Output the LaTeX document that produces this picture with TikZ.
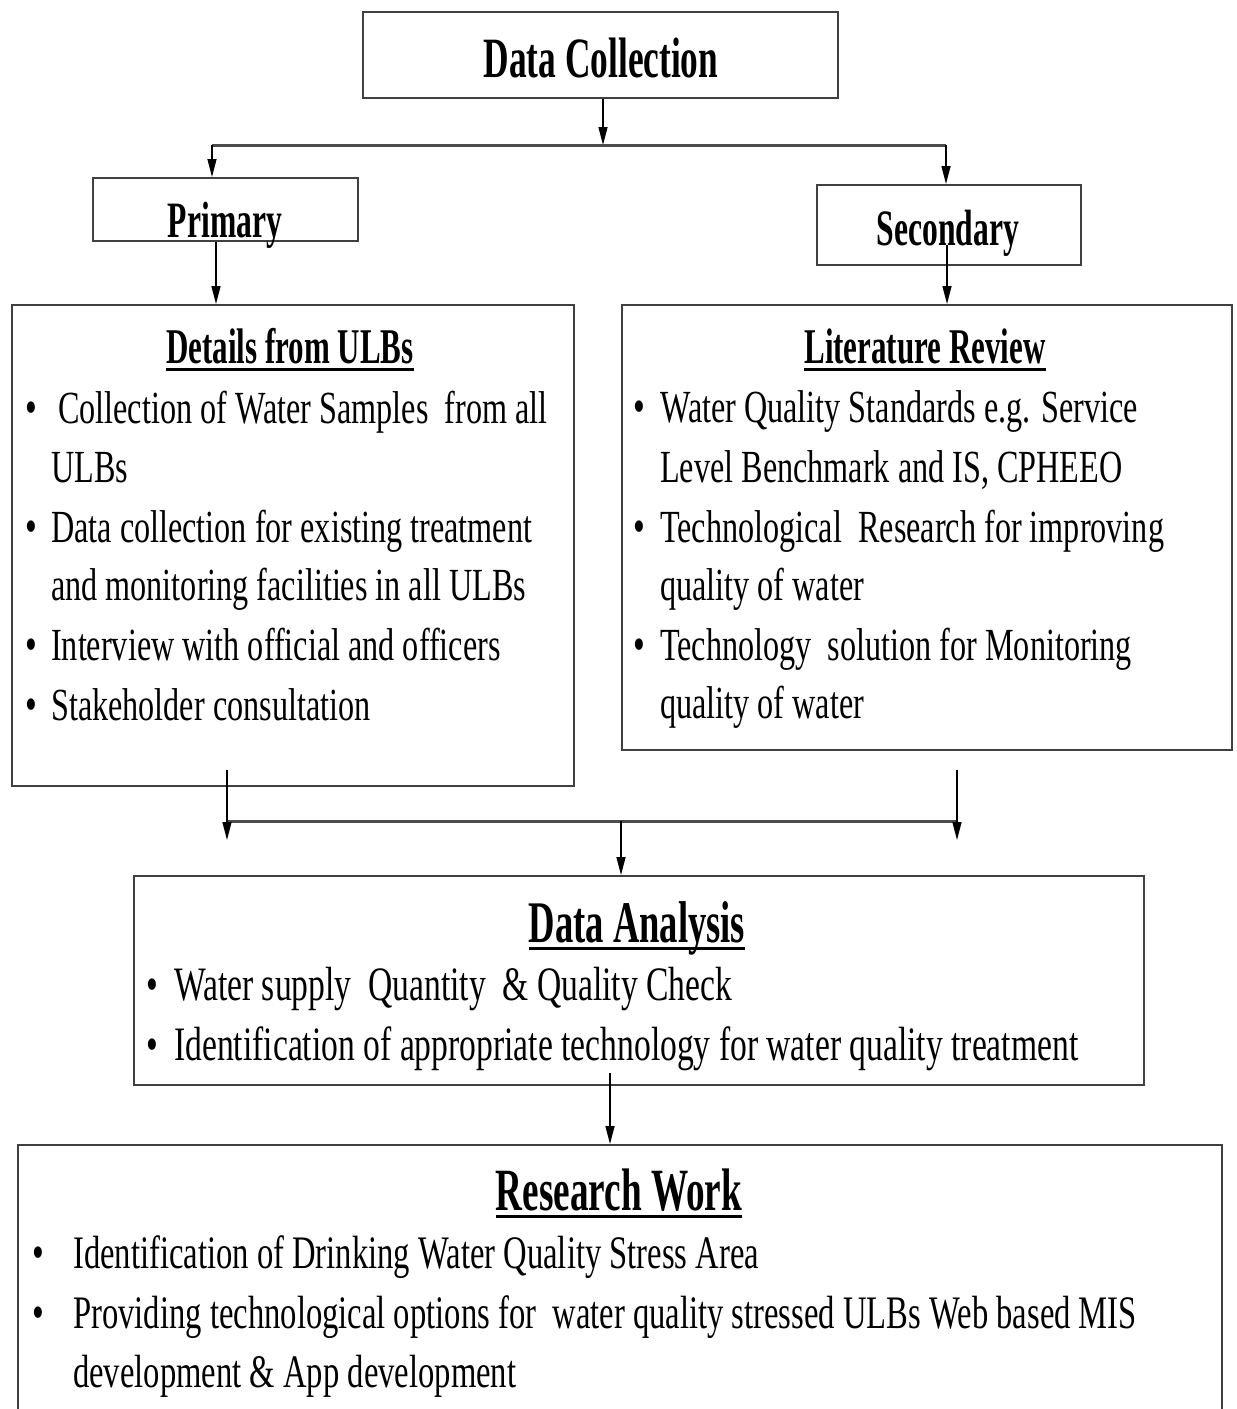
\documentclass[tikz,border=0pt]{standalone}
\usepackage{fontspec}
\usetikzlibrary{arrows.meta,calc}
\newfontfamily\bodyfont[FakeStretch=0.70]{Liberation Serif}
\newfontfamily\headfont[FakeStretch=0.62]{Liberation Serif}
\newcommand\ulhead[1]{\setbox0\hbox{#1}\rlap{\rule[-8pt]{\wd0}{3.5pt}}\box0}
\tikzset{
  frame/.style={draw=black!75,line width=2pt,rectangle,inner sep=0pt},
  arr/.style={line width=1.4pt,-{Triangle[length=18pt,width=9pt]}},
  bar/.style={line width=3pt,draw=black!70},
  head/.style={anchor=base,inner sep=0pt,font=\headfont\bfseries\fontsize{50}{60}\selectfont},
  body/.style={anchor=base west,inner sep=0pt,font=\bodyfont\fontsize{46}{55}\selectfont},
  bigbody/.style={body,font=\bodyfont\fontsize{48}{55}\selectfont},
  bul/.style={anchor=base,inner sep=0pt,font=\bodyfont\fontsize{48}{55}\selectfont}
}
\begin{document}
\begin{tikzpicture}[x=1pt,y=1pt,yscale=-1,xscale=1]
\useasboundingbox (0,0) rectangle (1237,1409);

%Shape: Rectangle
\node[frame,minimum width=475,minimum height=86] (dc) at (600.5,55) {};
\node[head,font=\headfont\bfseries\fontsize{57}{60}\selectfont] (dctxt) at (601,77) {Data Collection};
%Shape: Rectangle
\node[frame,minimum width=265,minimum height=63] (prim) at (225.5,209.5) {};
\node[head,font=\headfont\bfseries\fontsize{51}{60}\selectfont] (primtxt) at (225,237) {Primary};
%Shape: Rectangle
\node[frame,minimum width=264,minimum height=80] (sec) at (949,225) {};
\node[head,font=\headfont\bfseries\fontsize{51}{60}\selectfont] (sectxt) at (948,245) {Secondary};
%Shape: Rectangle
\node[frame,minimum width=562,minimum height=481] (det) at (292.5,545.5) {};
%Shape: Rectangle
\node[frame,minimum width=610,minimum height=445] (lit) at (927,527.5) {};
%Shape: Rectangle
\node[frame,minimum width=1010,minimum height=209] (ana) at (638.5,980.5) {};
%Shape: Rectangle
\node[frame,minimum width=1204,minimum height=300] (res) at (619.5,1295) {};

%Straight Lines
\coordinate (jtop) at (603,145);
\coordinate (jl) at (212,145);
\coordinate (jr) at (946,145);
\draw[arr] (dc.south -| jtop) -- (jtop);
\draw[bar] (jl) -- (jr);
\draw[arr] (jl) -- (jl |- prim.north);
\draw[arr] (jr) -- (jr |- sec.north);
\draw[arr] (prim.south -| 216,0) -- (216,0 |- det.north);
\draw[arr] ($(sec.center)+(-2,20)$) -- (947,0 |- lit.north);

%Straight Lines
\coordinate (ml) at (227,770);
\coordinate (mr) at (957,770);
\coordinate (mbl) at (227,821);
\coordinate (mbr) at (957,821);
\coordinate (mc) at (621,821);
\draw[bar] (mbl) -- (mbr);
\draw[arr] (ml) -- (227,840);
\draw[arr] (mr) -- (957,840);
\draw[arr] (mc) -- (mc |- ana.north);
\draw[arr] (610,1073) -- (610,0 |- res.north);

% Text Node
\node[head] (dethd) at (290,363) {\ulhead{Details from ULBs}};
\node[bul] (db1) at (31,423) {\textbullet};
\node[body] (d1) at (58,423) {Collection of Water Samples\ \ from all};
\node[body] (d2) at (51,482) {ULBs};
\node[bul] (db2) at (31,542) {\textbullet};
\node[body] (d3) at (51,542) {Data collection for existing treatment};
\node[body] (d4) at (51,600) {and monitoring facilities in all ULBs};
\node[bul] (db3) at (31,660) {\textbullet};
\node[body] (d5) at (51,660) {Interview with official and officers};
\node[bul] (db4) at (31,720) {\textbullet};
\node[body] (d6) at (51,720) {Stakeholder consultation};

% Text Node
\node[head] (lithd) at (925,363) {\ulhead{Literature Review}};
\node[bul] (lb1) at (639,422) {\textbullet};
\node[body] (l1) at (660,422) {Water Quality Standards e.g. Service};
\node[body] (l2) at (660,482) {Level Benchmark and IS, CPHEEO};
\node[bul] (lb2) at (639,542) {\textbullet};
\node[body] (l3) at (660,542) {Technological\ \ Research for improving};
\node[body] (l4) at (660,600) {quality of water};
\node[bul] (lb3) at (639,660) {\textbullet};
\node[body] (l5) at (660,660) {Technology\ \ solution for Monitoring};
\node[body] (l6) at (660,718) {quality of water};

% Text Node
\node[head,font=\headfont\bfseries\fontsize{59}{60}\selectfont] (anahd) at (637,942) {\ulhead{Data Analysis}};
\node[bul] (ab1) at (152,1000) {\textbullet};
\node[bigbody] (a1) at (174,1000) {Water supply\ \ Quantity\ \ \& Quality Check};
\node[bul] (ab2) at (152,1060) {\textbullet};
\node[bigbody] (a2) at (174,1060) {Identification of appropriate technology for water quality treatment};

% Text Node
\node[head,font=\headfont\bfseries\fontsize{60}{60}\selectfont] (reshd) at (619,1210) {\ulhead{Research Work}};
\node[bul] (rb1) at (38,1268) {\textbullet};
\node[body,font=\bodyfont\fontsize{46.6}{55}\selectfont] (r1) at (73,1268) {Identification of Drinking Water Quality Stress Area};
\node[bul] (rb2) at (38,1328) {\textbullet};
\node[body,font=\bodyfont\fontsize{46.6}{55}\selectfont] (r2) at (73,1328) {Providing technological options for\ \ water quality stressed ULBs Web based MIS};
\node[body,font=\bodyfont\fontsize{46.6}{55}\selectfont] (r3) at (73,1387) {development \& App development};
\end{tikzpicture}
\end{document}
